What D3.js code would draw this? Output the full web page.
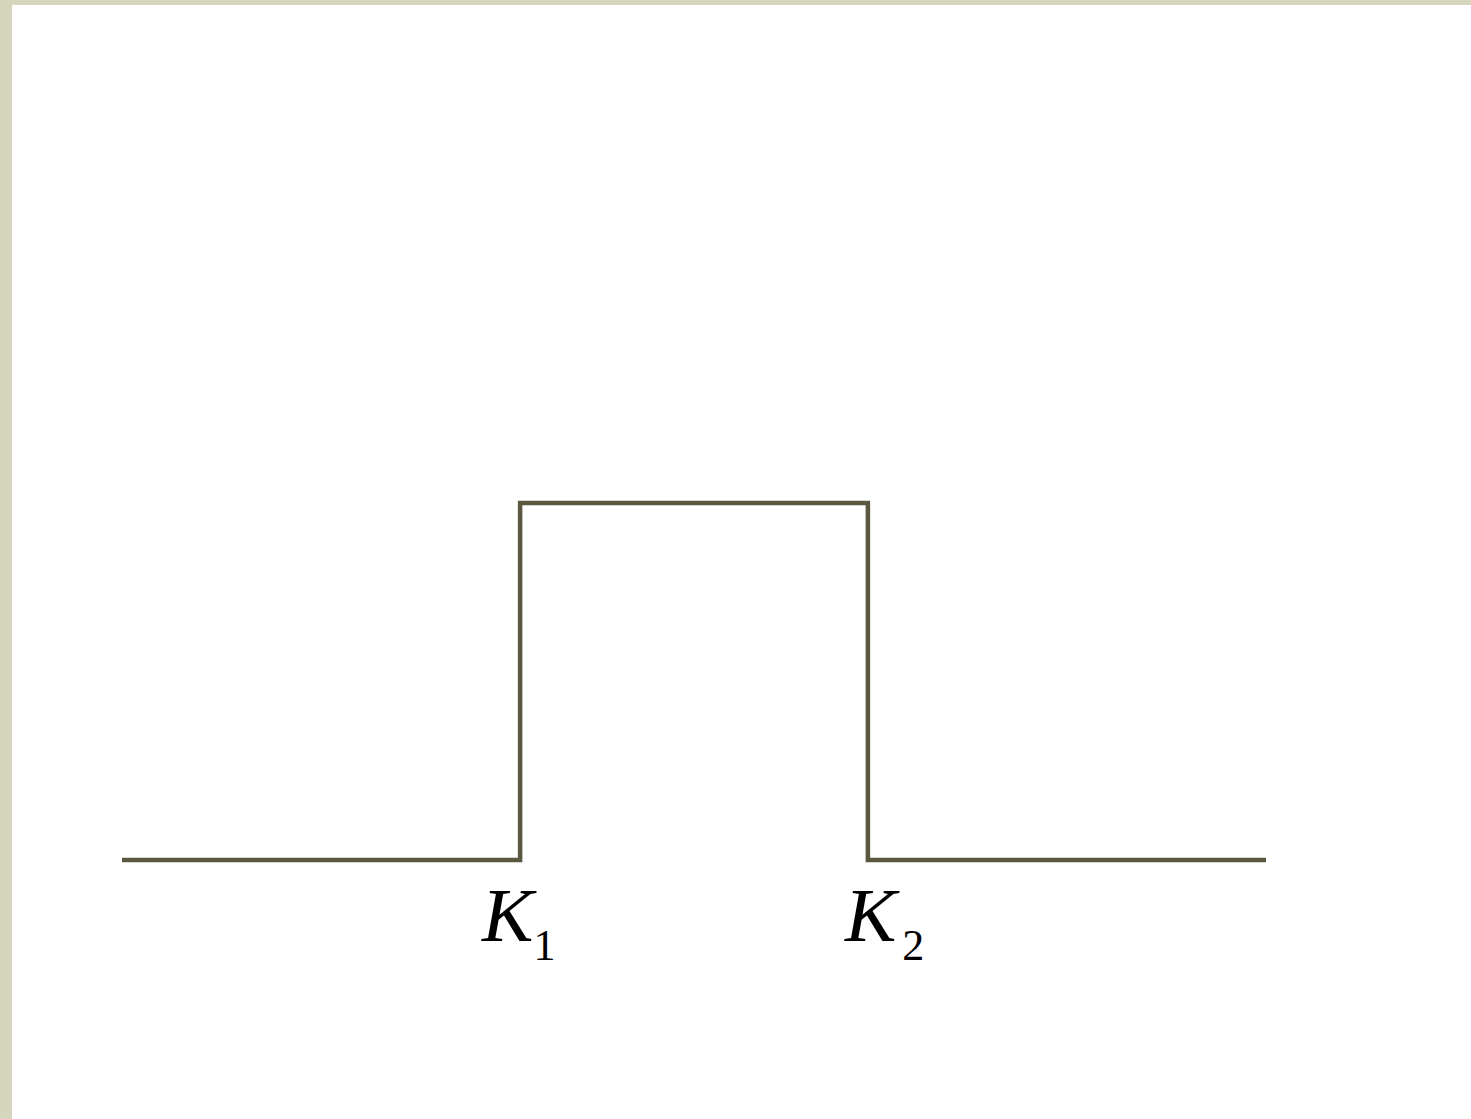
<!DOCTYPE html>
<html>
<head>
<meta charset="utf-8">
<script src="https://cdn.jsdelivr.net/npm/d3@7"></script>
<style>
  html, body { margin: 0; padding: 0; background: #d6d6bd; }
  #chart { display: block; }
</style>
</head>
<body>
<svg id="chart"></svg>
<script>
// payoff of a digital range between two strikes
const strikes = [34.8, 65.2];
const strikeLabels = ["1", "2"];
const payoffX = [0, 34.8, 34.8, 65.2, 65.2, 100];
const payoffY = [0, 0, 1, 1, 0, 0];

const width = 1471, height = 1119;

const svg = d3.select("#chart")
  .attr("width", width)
  .attr("height", height);

// white slide area over the beige frame
svg.append("rect")
  .attr("x", 12)
  .attr("y", 5)
  .attr("width", width - 12)
  .attr("height", height - 5)
  .attr("fill", "white");

const xScale = d3.scaleLinear().domain([0, 100]).range([122, 1266]);
const yScale = d3.scaleLinear().domain([0, 1]).range([860, 503]);

const points = payoffX.map((x, i) => [x, payoffY[i]]);

const line = d3.line()
  .x(d => xScale(d[0]))
  .y(d => yScale(d[1]));

svg.append("path")
  .datum(points)
  .attr("d", line)
  .attr("fill", "none")
  .attr("stroke", "#5a5840")
  .attr("stroke-width", 4.5)
  .attr("stroke-linejoin", "miter");

// strike labels K1, K2 (the second one sits a bit more to the right of its strike)
const labelShift = [-38, -23];
const subShift = [0, 6];

const labels = svg.selectAll(".strike-label")
  .data(strikes)
  .enter()
  .append("text")
  .attr("class", "strike-label")
  .attr("x", (d, i) => xScale(d) + labelShift[i])
  .attr("y", 941)
  .attr("font-family", "'Liberation Serif', 'Times New Roman', serif")
  .attr("fill", "black");

labels.append("tspan")
  .attr("font-style", "italic")
  .attr("font-size", 77)
  .text("K");

labels.append("tspan")
  .attr("font-size", 44)
  .attr("dx", (d, i) => subShift[i])
  .attr("dy", 19)
  .text((d, i) => strikeLabels[i]);
</script>
</body>
</html>
